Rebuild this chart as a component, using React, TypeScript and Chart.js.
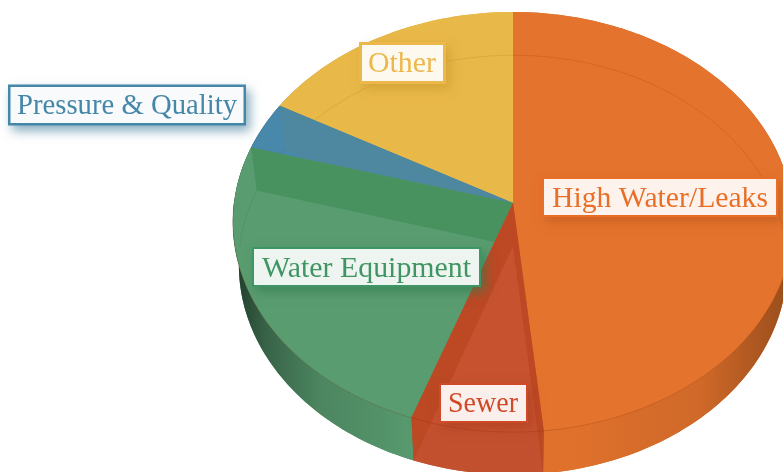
import React, { useEffect, useRef } from "react";
import { Chart, registerables } from "chart.js";

Chart.register(...registerables);

// Data, clockwise from twelve o'clock
const categories = ["High Water/Leaks", "Sewer", "Water Equipment", "Pressure & Quality", "Other"];
const shares = [48.4, 7, 24, 3.7, 16.9];

// Colours per category
const faceColors = ["#E4732D", "#C65230", "#599C70", "#4888AB", "#E8B848"];
const wallColors = ["#E4732D", "#BC4824", "#47925F", "#4E88A0", "#E8B848"];
const textColors = ["#E96F28", "#CF4A28", "#3F9563", "#4587A8", "#EDB84B"];
const shadowColors = [
  "rgba(190,90,30,0.65)",
  "rgba(170,60,30,0.6)",
  "rgba(50,125,80,0.65)",
  "rgba(60,120,150,0.6)",
  "rgba(205,155,50,0.65)",
];
const paintOrder = [0, 4, 3, 2, 1];

// Callout layout [x, y, w, h, textX, baseline, border, textWidth]
const callouts = [
  [544, 179, 232, 36, 552, 207, 2, 216],
  [441, 385, 85, 36, 448, 412, 2, 70],
  [254, 249, 225, 36, 262, 277, 2, 209],
  [10.5, 87, 233, 36, 17, 114, 2.5, 220],
  [362, 45, 81, 36, 368, 72, 3, 68],
];

// Perspective of the two discs of the drum
const CX = 513;
const K = -0.0905;
const topDisc = { a: 279, b: 208.3, y0: 203 };
const floorDisc = { a: 273, b: 208, y0: 246 };

type Disc = typeof topDisc;
const project = (d: Disc, t: number): [number, number] => {
  const w = 1 / (1 + K * Math.sin(t));
  return [CX + d.a * Math.cos(t) * w, d.y0 + d.b * Math.sin(t) * w];
};

const arcPts = (d: Disc, s: number, e: number) => {
  const n = Math.max(4, Math.ceil(Math.abs(e - s) / 0.02));
  const pts: [number, number][] = [];
  for (let i = 0; i <= n; i++) pts.push(project(d, s + ((e - s) * i) / n));
  return pts;
};

const fillPoly = (ctx: CanvasRenderingContext2D, pts: [number, number][], fill: any) => {
  ctx.beginPath();
  pts.forEach((p, i) => (i ? ctx.lineTo(p[0], p[1]) : ctx.moveTo(p[0], p[1])));
  ctx.closePath();
  ctx.fillStyle = fill;
  ctx.fill();
};

const strokeArc = (ctx: CanvasRenderingContext2D, d: Disc, s: number, e: number, color: string) => {
  const pts = arcPts(d, s, e);
  ctx.beginPath();
  pts.forEach((p, i) => (i ? ctx.lineTo(p[0], p[1]) : ctx.moveTo(p[0], p[1])));
  ctx.strokeStyle = color;
  ctx.lineWidth = 1;
  ctx.stroke();
};

const drumPlugin = {
  id: "drum",
  beforeDatasetsDraw: () => false,
  afterDraw(chart: any) {
    const ctx: CanvasRenderingContext2D = chart.ctx;
    const arcs = chart.getDatasetMeta(0).data;
    const ds = chart.data.datasets[0];
    const shade = ctx.createLinearGradient(233, 0, 783, 0);
    shade.addColorStop(0, "rgba(10,20,15,0.72)");
    shade.addColorStop(0.06, "rgba(10,20,15,0.42)");
    shade.addColorStop(0.16, "rgba(10,20,15,0.16)");
    shade.addColorStop(0.32, "rgba(0,0,0,0.02)");
    shade.addColorStop(0.62, "rgba(0,0,0,0.02)");
    shade.addColorStop(0.85, "rgba(30,15,0,0.1)");
    shade.addColorStop(1, "rgba(30,15,0,0.36)");

    ctx.save();
    for (const i of paintOrder) {
      const s = arcs[i].startAngle;
      const e = arcs[i].endAngle;
      const face = ds.backgroundColor[i];
      const wall = ds.wallColor[i];
      const topArc = arcPts(topDisc, s, e);
      const floorArc = arcPts(floorDisc, s, e);
      const apexTop: [number, number] = [CX, topDisc.y0];
      const apexFloor: [number, number] = [CX, floorDisc.y0];

      fillPoly(ctx, [apexFloor, ...floorArc], face);
      const strip = [...topArc, ...[...floorArc].reverse()];
      fillPoly(ctx, strip, face);
      fillPoly(ctx, strip, shade);
      fillPoly(ctx, [apexTop, ...topArc], face);
      for (const t of [s, e]) {
        fillPoly(ctx, [project(topDisc, t), apexTop, apexFloor, project(floorDisc, t)], wall);
      }
      const sf = Math.max(s, 0);
      const ef = Math.min(e, Math.PI);
      if (ef > sf) strokeArc(ctx, topDisc, sf, ef, "rgba(120,30,0,0.2)");
      const sb = Math.max(s, Math.PI);
      if (e > sb) strokeArc(ctx, floorDisc, sb, e, "rgba(90,50,0,0.1)");
      if (s < -Math.PI / 2 + 0.001) strokeArc(ctx, floorDisc, s, Math.min(e, 0), "rgba(120,30,0,0.14)");
    }
    ctx.restore();

    // Callouts
    ctx.save();
    ctx.textBaseline = "alphabetic";
    ctx.textAlign = "left";
    ctx.font = '28.5px "Liberation Serif", serif';
    chart.data.labels.forEach((label: string, i: number) => {
      const [x, y, w, h, tx, by, border, tw] = callouts[i];
      const color = textColors[i];
      ctx.save();
      ctx.shadowColor = shadowColors[i];
      ctx.shadowBlur = 10;
      ctx.shadowOffsetX = 4;
      ctx.shadowOffsetY = 5;
      ctx.fillStyle = color;
      ctx.fillRect(x - border, y - border, w + 2 * border, h + 2 * border);
      ctx.restore();
      ctx.fillStyle = "#FFFFFF";
      ctx.fillRect(x, y, w, h);
      ctx.fillStyle = color;
      ctx.globalAlpha = i === 3 ? 0.04 : 0.09;
      ctx.fillRect(x, y, w, h);
      ctx.globalAlpha = 1;
      ctx.save();
      ctx.translate(tx, by);
      ctx.scale(tw / ctx.measureText(label).width, 1);
      ctx.fillStyle = color;
      ctx.fillText(label, 0, 0);
      ctx.restore();
    });
    ctx.restore();
  },
};

export default function App() {
  const ref = useRef<HTMLCanvasElement>(null);
  useEffect(() => {
    const chart = new Chart(ref.current as HTMLCanvasElement, {
      type: "pie",
      data: {
        labels: categories,
        datasets: [
          {
            data: shares,
            backgroundColor: faceColors,
            wallColor: wallColors,
            borderWidth: 0,
          } as any,
        ],
      },
      options: {
        animation: false,
        responsive: false,
        plugins: { legend: { display: false }, tooltip: { enabled: false } },
      },
      plugins: [drumPlugin as any],
    });
    return () => chart.destroy();
  }, []);
  return (
    <div style={{ position: "fixed", left: 0, top: 0, width: 783, height: 472, background: "#fff" }}>
      <canvas ref={ref} width={783} height={472} style={{ display: "block" }} />
    </div>
  );
}
